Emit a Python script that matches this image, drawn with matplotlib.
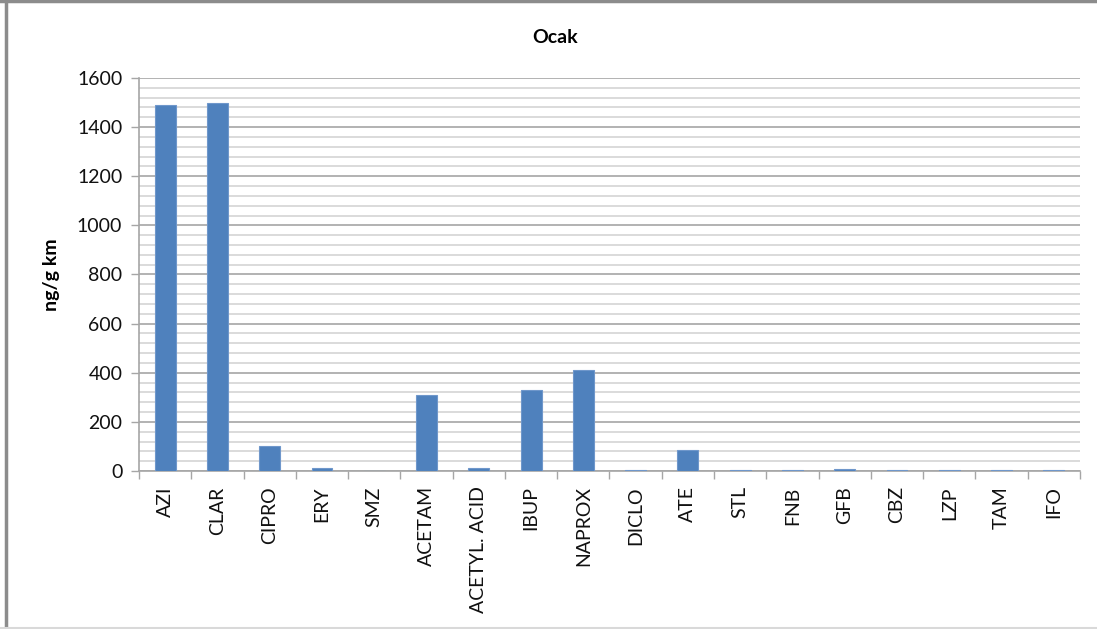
import matplotlib
matplotlib.use("Agg")
import matplotlib.pyplot as plt
from matplotlib.lines import Line2D
from matplotlib.ticker import MultipleLocator, FixedLocator
import numpy as np

plt.rcParams['font.family'] = ['Lato', 'DejaVu Sans']

categories = ["AZI", "CLAR", "CIPRO", "ERY", "SMZ", "ACETAM", "ACETYL. ACID",
              "IBUP", "NAPROX", "DICLO", "ATE", "STL", "FNB", "GFB", "CBZ",
              "LZP", "TAM", "IFO"]
values = [1492, 1497, 100, 14, 0, 311, 14, 328, 411, 5, 87, 5, 5, 9, 5, 5, 5, 5]

title = "Ocak"
ylabel = "ng/g km"

fig = plt.figure(figsize=(10.97, 6.29), dpi=100)
ax = fig.add_axes([0.1267, 0.2512, 0.8578, 0.6248])

x = np.arange(len(categories))
ax.bar(x, values, width=0.4, color="#4f81bd", edgecolor="#6f97cb",
       linewidth=0.8, zorder=3)

ax.set_xlim(-0.5, len(categories) - 0.5)
ax.set_ylim(0, 1600)

# gridlines: minor every 40, major every 200
ax.yaxis.set_major_locator(MultipleLocator(200))
ax.yaxis.set_minor_locator(MultipleLocator(40))
ax.grid(axis="y", which="minor", color="#d4d4d4", linewidth=1.2, zorder=0)
ax.grid(axis="y", which="major", color="#a6a6a6", linewidth=1.2, zorder=1)

ax.set_xticks(x)
ax.set_xticklabels(categories, rotation=90, fontsize=14, color="#111111")
ax.xaxis.set_minor_locator(FixedLocator(np.arange(-0.5, len(categories), 1.0)))
ax.tick_params(axis="x", which="major", length=0, pad=11)
ax.tick_params(axis="x", which="minor", length=6, color="#a6a6a6", width=1)
ax.tick_params(axis="y", which="major", length=6, color="#a6a6a6", width=1,
               labelsize=14, labelcolor="#111111", pad=6)
ax.tick_params(axis="y", which="minor", length=0)

for side in ("top", "right"):
    ax.spines[side].set_visible(False)
for side in ("left", "bottom"):
    ax.spines[side].set_color("#a6a6a6")
    ax.spines[side].set_linewidth(1.2)

ax.set_ylabel(ylabel, fontsize=14, fontweight="bold", labelpad=12)
fig.text(0.506, 0.941, title, ha="center", va="center", fontsize=14,
         fontweight="bold")

# chart frame
fig.add_artist(Line2D([0.0055, 0.0055], [0, 1], transform=fig.transFigure,
                      color="#8c8c8c", linewidth=2.5))
fig.add_artist(Line2D([0, 1], [0.9985, 0.9985], transform=fig.transFigure,
                      color="#8c8c8c", linewidth=2.5))
fig.add_artist(Line2D([0, 1], [0.002, 0.002], transform=fig.transFigure,
                      color="#d9d9d9", linewidth=1.5))

fig.savefig("out.png", dpi=100)
